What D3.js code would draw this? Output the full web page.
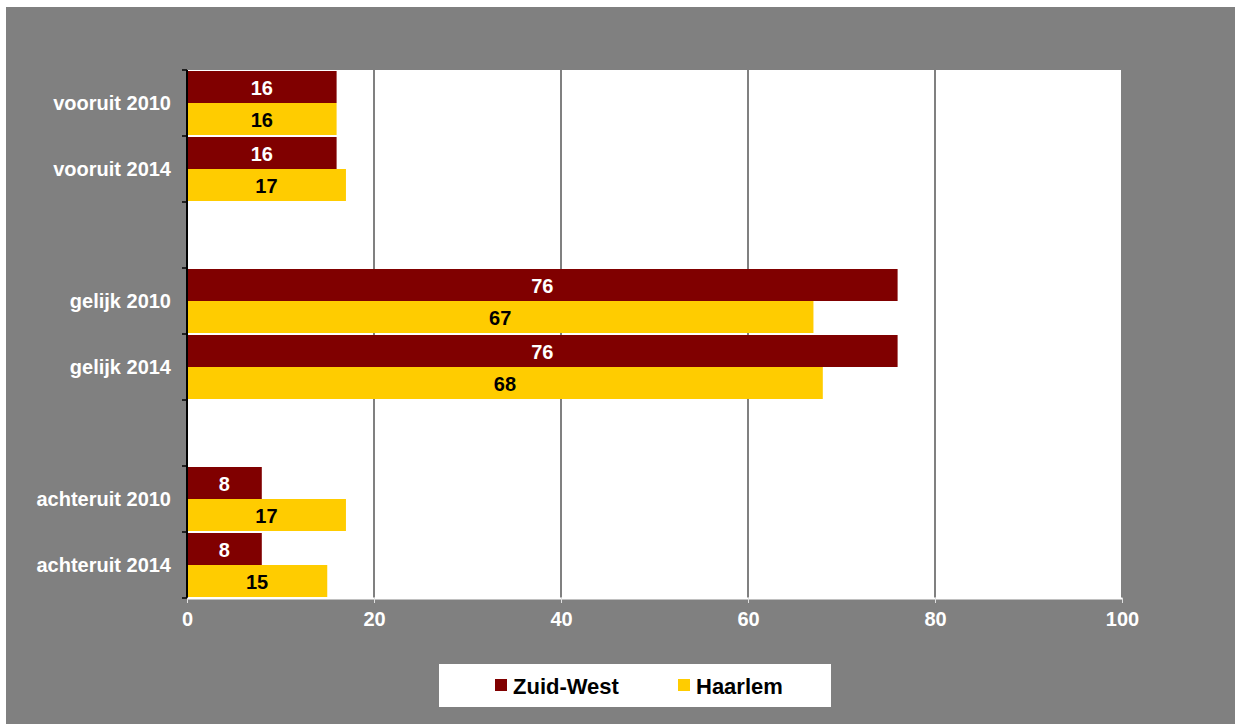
<!DOCTYPE html>
<html><head><meta charset="utf-8">
<script src="https://cdn.jsdelivr.net/npm/d3@7"></script>
<style>body{margin:0;background:#fff}svg{display:block}text{font-family:"Liberation Sans",Arial,sans-serif;font-weight:bold}</style>
</head><body><svg id="c" width="1235" height="724"></svg>
<script>
const categories = ["vooruit 2010","vooruit 2014","__gap1","gelijk 2010","gelijk 2014","__gap2","achteruit 2010","achteruit 2014"];
const series = ["Zuid-West","Haarlem"];
const zuidWest = [16,16,null,76,76,null,8,8];
const haarlem = [16,17,null,67,68,null,17,15];
const xTicks = [0,20,40,60,80,100];
const colors = ["#800000","#FFCC00"];
const labelColors = ["#ffffff","#000000"];
const FS = 20;

const svg = d3.select("#c");
svg.append("rect").attr("x",6).attr("y",7).attr("width",1229).attr("height",717).attr("fill","#808080");
const L=187,R=1122,T=70,B=598;
svg.append("rect").attr("x",L).attr("y",T).attr("width",R-L).attr("height",B-T).attr("fill","#fff");
const x = d3.scaleLinear().domain([0,100]).range([L,R]);
const y = d3.scaleBand().domain(categories).range([T,B]);
const ys = d3.scaleBand().domain(series).range([0,y.bandwidth()]).paddingInner(0.0);

// gridlines
svg.append("g").selectAll("line").data(xTicks.filter(d=>d>0)).join("line")
 .attr("x1",d=>x(d)).attr("x2",d=>x(d)).attr("y1",T).attr("y2",B)
 .attr("stroke","#808080").attr("stroke-width",2);

const data = [zuidWest,haarlem];
series.forEach((s,si)=>{
  const g = svg.append("g");
  const rows = categories.map((c,i)=>({c,v:data[si][i]})).filter(d=>d.v!=null);
  g.selectAll("rect").data(rows).join("rect")
   .attr("x",x(0)).attr("y",d=>y(d.c)+ys(s)+(si===0?1:0))
   .attr("width",d=>x(d.v)-x(0)).attr("height",ys.bandwidth()-1)
   .attr("fill",colors[si]);
  g.selectAll("text").data(rows).join("text")
   .attr("x",d=>(x(d.v)+x(0))/2).attr("y",d=>y(d.c)+ys(s)+ys.bandwidth()/2+(si===0?1:0))
   .attr("dy","0.36em").attr("text-anchor","middle").attr("font-size",FS)
   .attr("fill",labelColors[si]).text(d=>d.v);
});

// y axis
const yAxis = svg.append("g").attr("transform",`translate(${L},0)`);
yAxis.append("line").attr("x1",0).attr("x2",0).attr("y1",T).attr("y2",B).attr("stroke","#000").attr("stroke-width",2);
const bounds = categories.map(c=>y(c)).concat([B]);
yAxis.selectAll("line.t").data(bounds).join("line").attr("class","t")
 .attr("x1",-5).attr("x2",0).attr("y1",d=>d).attr("y2",d=>d).attr("stroke","#000").attr("stroke-width",1.5);
yAxis.selectAll("text").data(categories.filter(c=>!c.startsWith("__"))).join("text")
 .attr("x",-16).attr("y",d=>y(d)+y.bandwidth()/2).attr("dy","0.36em")
 .attr("text-anchor","end").attr("fill","#fff").attr("font-size",FS).text(d=>d);

// x axis
const xAxis = svg.append("g").attr("transform",`translate(0,${B})`)
 .call(d3.axisBottom(x).tickValues(xTicks).tickSize(5).tickPadding(9).tickSizeOuter(0));
xAxis.select(".domain").attr("stroke","#ffffff").attr("stroke-width",2);
xAxis.selectAll(".tick line").attr("stroke","#e0e0e0");
xAxis.selectAll(".tick text").attr("fill","#fff").attr("font-size",FS).attr("font-family","'Liberation Sans', Arial, sans-serif").attr("font-weight","bold");

// legend
const lg = svg.append("g");
lg.append("rect").attr("x",439).attr("y",664).attr("width",392).attr("height",43).attr("fill","#fff");
const lx = [495,678];
series.forEach((s,i)=>{
  lg.append("rect").attr("x",lx[i]).attr("y",679).attr("width",12).attr("height",12).attr("fill",colors[i]);
  lg.append("text").attr("x",lx[i]+18).attr("y",686).attr("dy","0.36em").attr("font-size",22).attr("fill","#000").text(s);
});
</script></body></html>
